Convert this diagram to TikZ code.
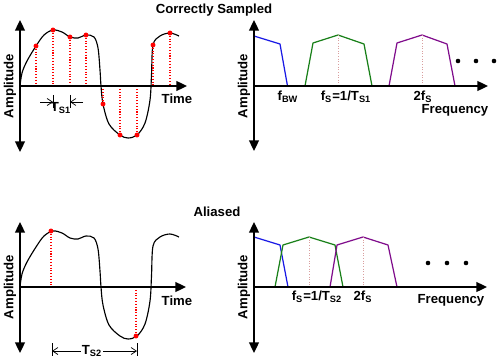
\documentclass[tikz,border=0pt]{standalone}
\usepackage{fontspec}
\setmainfont{Liberation Sans}
\usetikzlibrary{arrows.meta}
\definecolor{bandblue}{rgb}{0.1,0.1,0.9}
\definecolor{bandgreen}{rgb}{0.1,0.5,0.1}
\definecolor{bandpurple}{rgb}{0.5,0.05,0.55}
\definecolor{centreline}{rgb}{0.85,0.62,0.62}
\tikzset{lbl/.style={font=\fontsize{7.5}{8}\selectfont\bfseries, inner sep=0.5pt}}
\tikzset{xaxis/.style={line width=1.1pt, -{Triangle[length=6pt,width=5.5pt]}}}
\tikzset{yaxis/.style={line width=1.1pt, {Triangle[length=6pt,width=5.5pt]}-{Triangle[length=6pt,width=5.5pt]}}}
\tikzset{smp/.style={red, densely dotted, line width=0.6pt}}
\tikzset{cline/.style={centreline, densely dotted, line width=0.5pt}}
\tikzset{band/.style={line width=0.7pt, line join=round}}
\tikzset{dim/.style={line width=0.4pt, -{Straight Barb[length=3pt,width=4pt]}}}

\begin{document}
\begin{tikzpicture}[x=0.02cm, y=-0.02cm, line join=round]
  \useasboundingbox (0,0) rectangle (500,358);

  % titles
  \node[lbl] (ttop) at (214,10) {Correctly Sampled};
  \node[lbl] (tbot) at (217,212) {Aliased};

  % ---- correctly sampled, time
  \draw[line width=0.65pt] plot[smooth, tension=0.55] coordinates {(20,86) (22,73) (27,61) (36,46) (44,35) (53,30) (62,32) (70,37) (78,38) (86,35) (94,37) (98,48) (100,70) (101,86) (103,104) (109,124) (120,135) (128,138) (137,135) (145,123) (150,100) (151.5,75) (153,45) (160,36) (170,33) (179,36)};
  \foreach \x/\y in {36/46, 53/30, 70/37, 86/35, 103/104, 120/135, 137/135, 153/45, 170/33} {
    \draw[smp] (\x,\y) -- (\x,86);
    \fill[red] (\x,\y) circle (1.4pt);
  }
  \draw[yaxis] (20,152) -- (20,20);
  \draw[xaxis] (20,86) -- (187,86);
  \node[lbl, rotate=90] (amp1) at (10,86) {Amplitude};
  \node[lbl] (time1) at (177,99) {Time};
  \draw[line width=0.4pt] (53,95) -- (53,108);
  \draw[line width=0.4pt] (70,95) -- (70,108);
  \draw[dim] (40,102) -- (53,102);
  \draw[dim] (83,102) -- (70,102);
  \node[lbl] (ts1) at (61,108) {T\textsubscript{S1}};

  % ---- correctly sampled, frequency
  \draw[band, bandblue] (254,36) -- (280,44) -- (287.5,86);
  \draw[band, bandgreen] (305,86) -- (313,43) -- (338,35) -- (364,44) -- (372,86);
  \draw[band, bandpurple] (389,86) -- (397,43) -- (422,35) -- (447,44) -- (455,86);
  \draw[cline] (338,35) -- (338,86);
  \draw[cline] (422,35) -- (422,86);
  \draw[yaxis] (254,151) -- (254,20);
  \draw[xaxis] (254,86) -- (488,86);
  \node[lbl, rotate=90] (amp2) at (244,86) {Amplitude};
  \node[lbl] (fbw) at (288,97) {f\textsubscript{BW}};
  \node[lbl] (fs1) at (346,97) {f\textsubscript{S}=1/T\textsubscript{S1}};
  \node[lbl] (twofs1) at (423,97) {2f\textsubscript{S}};
  \node[lbl] (freq1) at (455,110) {Frequency};
  \foreach \x in {458,476,494} \fill (\x,61) circle (1.3pt);

  % ---- aliased, time
  \draw[line width=0.65pt, shift={(0,201)}] plot[smooth, tension=0.55] coordinates {(20,86) (22,73) (27,61) (36,46) (44,35) (53,30) (62,32) (70,37) (78,38) (86,35) (94,37) (98,48) (100,70) (101,86) (103,104) (109,124) (120,135) (128,138) (137,135) (145,123) (150,100) (151.5,75) (153,45) (160,36) (170,33) (179,36)};
  \draw[smp] (51,231) -- (51,287);
  \draw[smp] (136,287) -- (136,336);
  \fill[red] (51,231) circle (1.4pt);
  \fill[red] (136,336) circle (1.4pt);
  \draw[yaxis] (20,353) -- (20,222);
  \draw[xaxis] (20,287) -- (186,287);
  \node[lbl, rotate=90] (amp3) at (10,287) {Amplitude};
  \node[lbl] (time2) at (177,301) {Time};
  \node[lbl] (ts2) at (92,351) {T\textsubscript{S2}};
  \draw[line width=0.4pt] (52,343) -- (52,356);
  \draw[line width=0.4pt] (137,343) -- (137,356);
  \draw[dim] (ts2.west) -- (52,351);
  \draw[dim] (ts2.east) -- (137,351);

  % ---- aliased, frequency
  \draw[band, bandblue] (254,237) -- (280,245) -- (288,287);
  \draw[band, bandgreen] (275,287) -- (283,245) -- (309,237) -- (335,245) -- (343,287);
  \draw[band, bandpurple] (330,287) -- (337,245) -- (363,237) -- (388,245) -- (397,287);
  \draw[cline] (309,237) -- (309,287);
  \draw[cline] (363,237) -- (363,287);
  \draw[yaxis] (254,353) -- (254,222);
  \draw[xaxis] (254,287) -- (487,287);
  \node[lbl, rotate=90] (amp4) at (244,287) {Amplitude};
  \node[lbl] (fs2) at (317,297) {f\textsubscript{S}=1/T\textsubscript{S2}};
  \node[lbl] (twofs2) at (363,297) {2f\textsubscript{S}};
  \node[lbl] (freq2) at (451,300) {Frequency};
  \foreach \x in {428,447,466} \fill (\x,263) circle (1.3pt);
\end{tikzpicture}
\end{document}
